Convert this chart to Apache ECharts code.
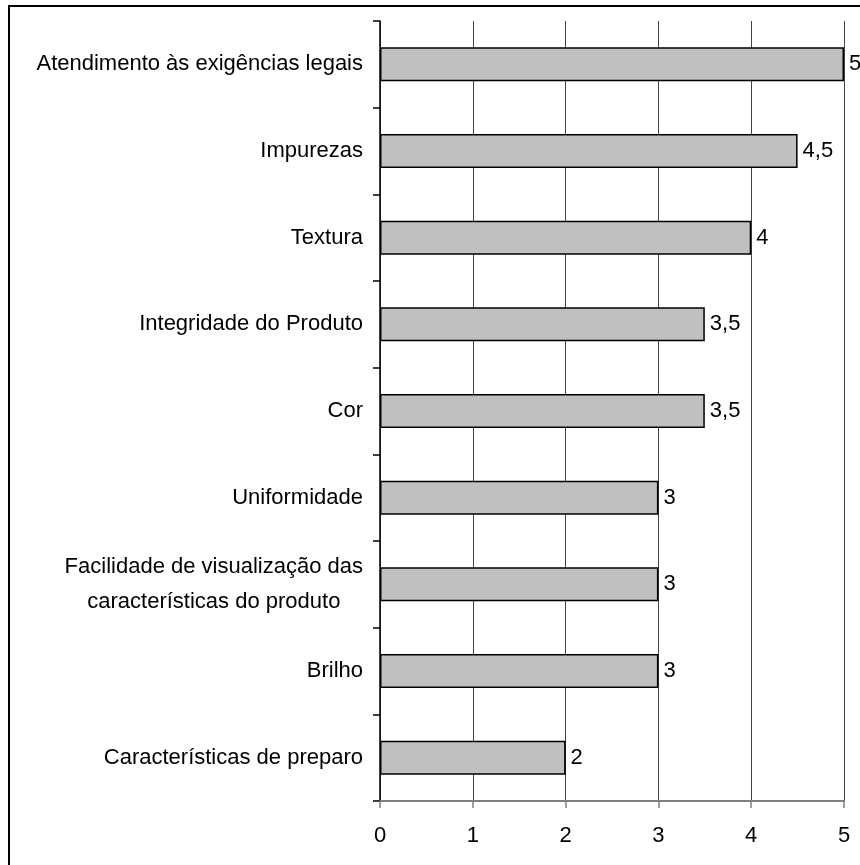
<!DOCTYPE html>
<html>
<head>
<meta charset="utf-8">
<script src="https://cdn.jsdelivr.net/npm/echarts@6/dist/echarts.min.js"></script>
<style>
html,body{margin:0;padding:0;background:#fff;}
#frame{position:absolute;left:8px;top:5px;width:900px;height:900px;border-left:2px solid #000;border-top:2px solid #000;box-sizing:border-box;}
#chart{position:absolute;left:0;top:0;width:860px;height:865px;}
</style>
</head>
<body>
<div id="frame"></div>
<div id="chart"></div>
<script>
const categories = [
  'Atendimento às exigências legais',
  'Impurezas',
  'Textura',
  'Integridade do Produto',
  'Cor',
  'Uniformidade',
  'Facilidade de visualização das\ncaracterísticas do produto',
  'Brilho',
  'Características de preparo'
];
const values = [5, 4.5, 4, 3.5, 3.5, 3, 3, 3, 2];
const xTicks = [0, 1, 2, 3, 4, 5];

const chart = echarts.init(document.getElementById('chart'), null, {renderer: 'canvas'});
const font = 'Liberation Sans, Arial, sans-serif';
chart.setOption({
  animation: false,
  backgroundColor: 'transparent',
  grid: {left: 380, right: 16, top: 21, bottom: 64, containLabel: false},
  xAxis: {
    type: 'value', min: xTicks[0], max: xTicks[xTicks.length - 1], interval: 1,
    axisLine: {show: true, lineStyle: {color: '#808080', width: 2}},
    axisTick: {show: true, length: 7, lineStyle: {color: '#808080', width: 1.5}},
    axisLabel: {margin: 24, color: '#000', fontFamily: font, fontSize: 22},
    splitLine: {show: true, lineStyle: {color: '#444', width: 1}}
  },
  yAxis: {
    type: 'category', data: categories, inverse: true,
    axisLine: {show: true, lineStyle: {color: '#000', width: 1.5}},
    axisTick: {show: true, length: 7, lineStyle: {color: '#000', width: 1.5}},
    axisLabel: {
      margin: 17, color: '#000', fontFamily: font, fontSize: 22,
      formatter: function (v) {
        return v.split('\n').map(s => '{c|' + s + '}').join('\n');
      },
      rich: {c: {align: 'center', fontFamily: font, fontSize: 22, color: '#000', lineHeight: 35}}
    },
    splitLine: {show: false}
  },
  series: [{
    type: 'bar', data: values, barWidth: 34,
    itemStyle: {color: '#c0c0c0', borderColor: '#000', borderWidth: 1.5},
    label: {
      show: true, position: 'right', distance: 5, color: '#000',
      fontFamily: font, fontSize: 22,
      formatter: p => String(p.value).replace('.', ',')
    }
  }]
});
</script>
</body>
</html>
